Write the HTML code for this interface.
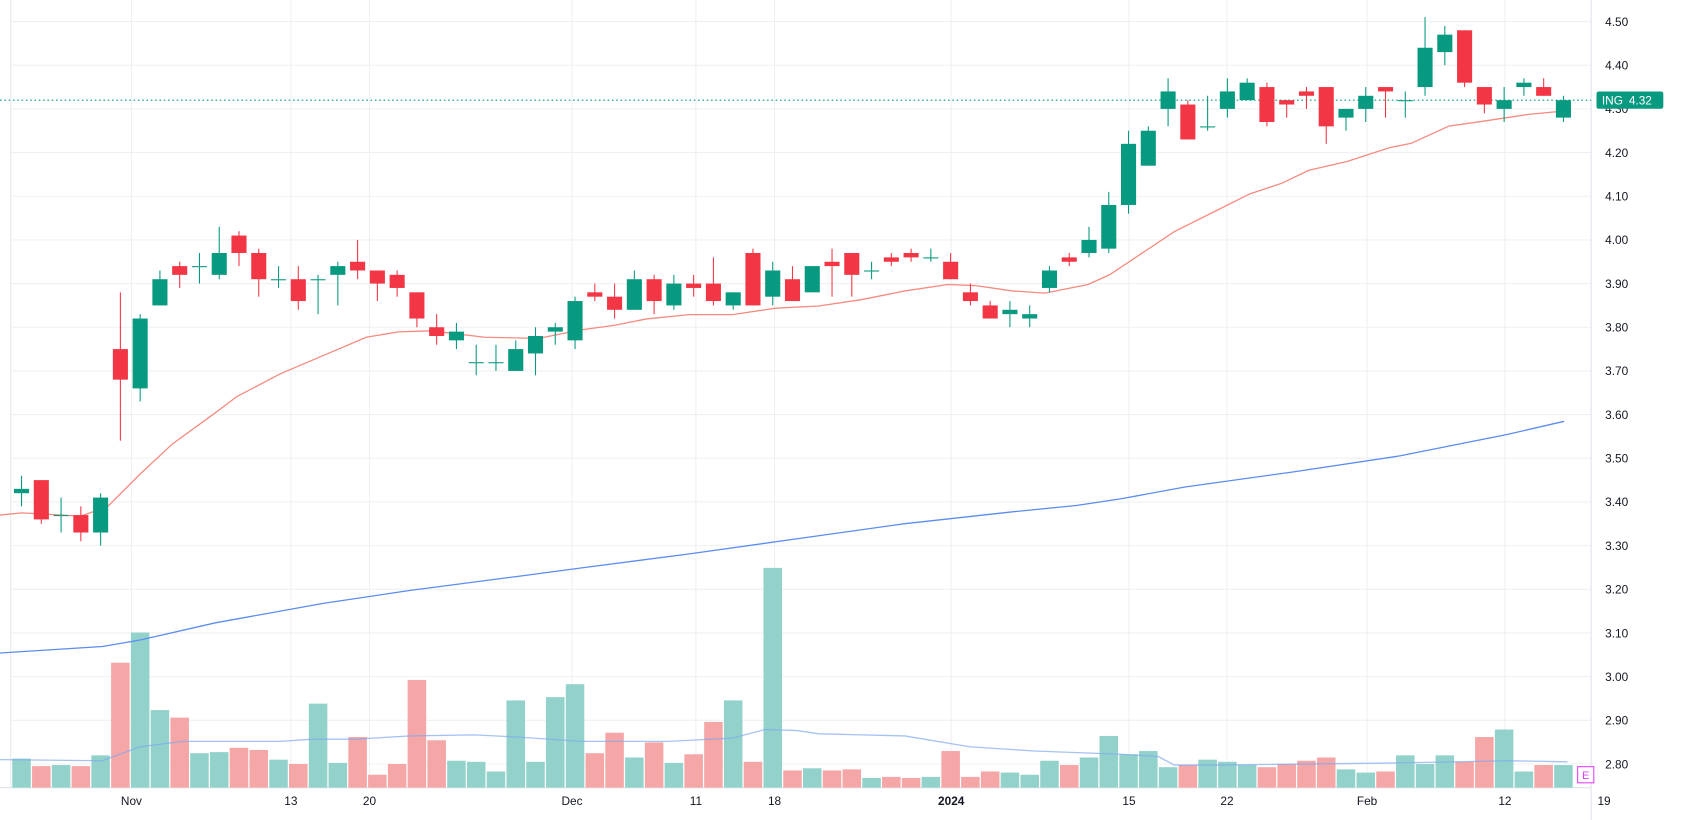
<!DOCTYPE html>
<html><head><meta charset="utf-8"><style>html,body{margin:0;padding:0;background:#fff;overflow:hidden}svg{display:block}</style></head>
<body>
<svg id="s" width="1687" height="820" viewBox="0 0 1566 761" preserveAspectRatio="none" xmlns="http://www.w3.org/2000/svg" font-family="Liberation Sans, sans-serif"></svg>
<script>
const s=document.getElementById('s');let h='';
const Y=p=>20+(4.50-p)*405.3;
for(let i=0;i<=17;i++){const y=20+i*40.53;h+=`<line x1="10" x2="1477" y1="${y}" y2="${y}" stroke="#f0f0f3" stroke-width="1"/>`;
h+=`<text x="1490" y="${y+4}" font-size="11" fill="#131722">${(4.5-i*0.1).toFixed(2)}</text>`;}
const tl=[[122,'Nov'],[270,'13'],[343,'20'],[531,'Dec'],[646,'11'],[719,'18'],[883,'2024'],[1048,'15'],[1139,'22'],[1269,'Feb'],[1397,'12'],[1489,'19']];
tl.forEach(([x,t])=>{if(x<1477)h+=`<line x1="${x}" x2="${x}" y1="0" y2="731" stroke="#f0f0f3"/>`;h+=`<text x="${x}" y="747" font-size="11" text-anchor="middle" fill="#131722" ${t=='2024'?'font-weight="bold"':''}>${t}</text>`;});
h+=`<line x1="10" x2="10" y1="0" y2="731" stroke="#e8e8ec"/><line x1="1477" x2="1477" y1="0" y2="761" stroke="#e0e3eb"/><line x1="0" x2="1477" y1="731" y2="731" stroke="#e0e3eb"/>`;
const C=[[3.42,3.46,3.39,3.43],[3.45,3.45,3.35,3.36],[3.37,3.41,3.33,3.37],[3.37,3.39,3.31,3.33],[3.33,3.42,3.30,3.41],[3.75,3.88,3.54,3.68],[3.66,3.83,3.63,3.82],[3.85,3.93,3.85,3.91],[3.94,3.95,3.89,3.92],[3.94,3.97,3.90,3.94],[3.92,4.03,3.91,3.97],[4.01,4.02,3.94,3.97],[3.97,3.98,3.87,3.91],[3.91,3.94,3.89,3.91],[3.91,3.94,3.84,3.86],[3.91,3.92,3.83,3.91],[3.92,3.95,3.85,3.94],[3.95,4.00,3.91,3.93],[3.93,3.93,3.86,3.90],[3.92,3.93,3.87,3.89],[3.88,3.88,3.80,3.82],[3.80,3.83,3.76,3.78],[3.77,3.81,3.75,3.79],[3.72,3.76,3.69,3.72],[3.72,3.76,3.70,3.72],[3.70,3.77,3.70,3.75],[3.74,3.80,3.69,3.78],[3.79,3.81,3.76,3.80],[3.77,3.87,3.75,3.86],[3.88,3.90,3.86,3.87],[3.87,3.90,3.82,3.84],[3.84,3.93,3.84,3.91],[3.91,3.92,3.83,3.86],[3.85,3.92,3.84,3.90],[3.90,3.92,3.87,3.89],[3.90,3.96,3.85,3.86],[3.85,3.88,3.84,3.88],[3.97,3.98,3.85,3.85],[3.87,3.95,3.85,3.93],[3.91,3.94,3.86,3.86],[3.88,3.94,3.88,3.94],[3.95,3.98,3.87,3.94],[3.97,3.97,3.87,3.92],[3.93,3.95,3.91,3.93],[3.96,3.97,3.94,3.95],[3.97,3.98,3.95,3.96],[3.96,3.98,3.95,3.96],[3.95,3.97,3.91,3.91],[3.88,3.90,3.85,3.86],[3.85,3.86,3.82,3.82],[3.83,3.86,3.80,3.84],[3.82,3.85,3.80,3.83],[3.89,3.94,3.88,3.93],[3.96,3.97,3.94,3.95],[3.97,4.03,3.96,4.00],[3.98,4.11,3.97,4.08],[4.08,4.25,4.06,4.22],[4.17,4.26,4.17,4.25],[4.30,4.37,4.26,4.34],[4.31,4.32,4.23,4.23],[4.26,4.33,4.25,4.26],[4.30,4.37,4.28,4.34],[4.32,4.37,4.32,4.36],[4.35,4.36,4.26,4.27],[4.32,4.32,4.28,4.31],[4.34,4.35,4.30,4.33],[4.35,4.35,4.22,4.26],[4.28,4.30,4.25,4.30],[4.30,4.35,4.27,4.33],[4.35,4.35,4.28,4.34],[4.32,4.34,4.28,4.32],[4.35,4.51,4.33,4.44],[4.43,4.49,4.40,4.47],[4.48,4.48,4.35,4.36],[4.35,4.35,4.29,4.31],[4.30,4.35,4.27,4.32],[4.35,4.37,4.33,4.36],[4.35,4.37,4.33,4.33],[4.28,4.33,4.27,4.32]];
const V=[704,711,710,711,701,615,587,659,666,699,698,694,696,705,709,653,708,684,719,709,631,687,706,707,716,650,707,647,635,699,680,703,689,708,700,670,650,707,527,715,713,715,714,722,721,722,721,697,721,716,717,719,706,710,703,683,700,697,712,710,705,707,710,712,709,706,703,714,717,716,701,709,701,707,684,677,716,710,710];
const X=i=>20+i*18.35;
V.forEach((t,i)=>{const [o,,,c]=C[i];const up=c>=o;h+=`<rect x="${X(i)-8.6}" y="${t}" width="17.2" height="${731-t}" fill="${up?'#92d2cb':'#f5a6a6'}"/>`;});
const pl=(pts,col,w,op)=>`<polyline points="${pts.map(p=>p.join(',')).join(' ')}" fill="none" stroke="${col}" stroke-width="${w}" opacity="${op}"/>`;
h+=pl([[0,705],[95,706],[130,693],[170,688],[260,688],[290,686],[330,686],[380,683],[440,682],[480,684],[540,688],[620,688],[680,685],[710,677],[740,678],[760,681],[800,682],[840,683],[900,693],[960,697],[1040,700],[1075,702],[1090,710],[1130,710],[1300,708],[1400,706],[1455,707]],'#7fa8f0',1.2,0.7);
h+=pl([[0,606],[95,600],[130,594],[200,578],[300,560],[380,548],[480,535],[540,527],[640,514],[740,500],[840,486],[940,475],[1000,469],[1040,463],[1100,452],[1200,438],[1300,423],[1400,403],[1452,391]],'#5b8def',1.2,1);
h+=pl([[0,478],[20,476],[40,477],[75,479],[100,470],[130,440],[160,412],[200,383],[220,368],[260,347],[300,330],[340,313],[370,308],[400,307],[450,313],[500,314],[540,306],[570,302],[600,296],[640,292],[680,292],[720,286],[760,284],[800,278],[840,270],[880,264],[905,265],[940,270],[970,272],[1010,264],[1030,255],[1060,235],[1090,215],[1130,195],[1160,180],[1190,170],[1215,158],[1250,150],[1290,137],[1310,133],[1345,117],[1380,112],[1420,106],[1452,103]],'#f58b7e',1.2,1);
h+=`<line x1="0" x2="1477" y1="${Y(4.32)}" y2="${Y(4.32)}" stroke="#089981" stroke-width="1" stroke-dasharray="1.5,2.5"/>`;
C.forEach(([o,hi,lo,c],i)=>{const up=c>=o;const col=up?'#089981':'#f23645';const x=X(i);
h+=`<line x1="${x}" x2="${x}" y1="${Y(hi)}" y2="${Y(lo)}" stroke="${col}" stroke-width="1"/>`;
const t=Y(Math.max(o,c)),b=Y(Math.min(o,c));h+=`<rect x="${x-7}" y="${t}" width="14" height="${Math.max(1,b-t)}" fill="${col}"/>`;});
h+=`<rect x="1482" y="${Y(4.32)-8}" width="62" height="16" rx="2" fill="#089981"/><text x="1487" y="${Y(4.32)+4}" font-size="11" fill="#fff">ING</text><text x="1512" y="${Y(4.32)+4}" font-size="11" fill="#fff">4.32</text>`;
h+=`<rect x="1464.5" y="711.5" width="15" height="15" fill="#fff" stroke="#e040fb" stroke-width="1"/><text x="1472" y="723" font-size="10" text-anchor="middle" fill="#e040fb">E</text>`;
s.innerHTML=h;
</script>
</body></html>
